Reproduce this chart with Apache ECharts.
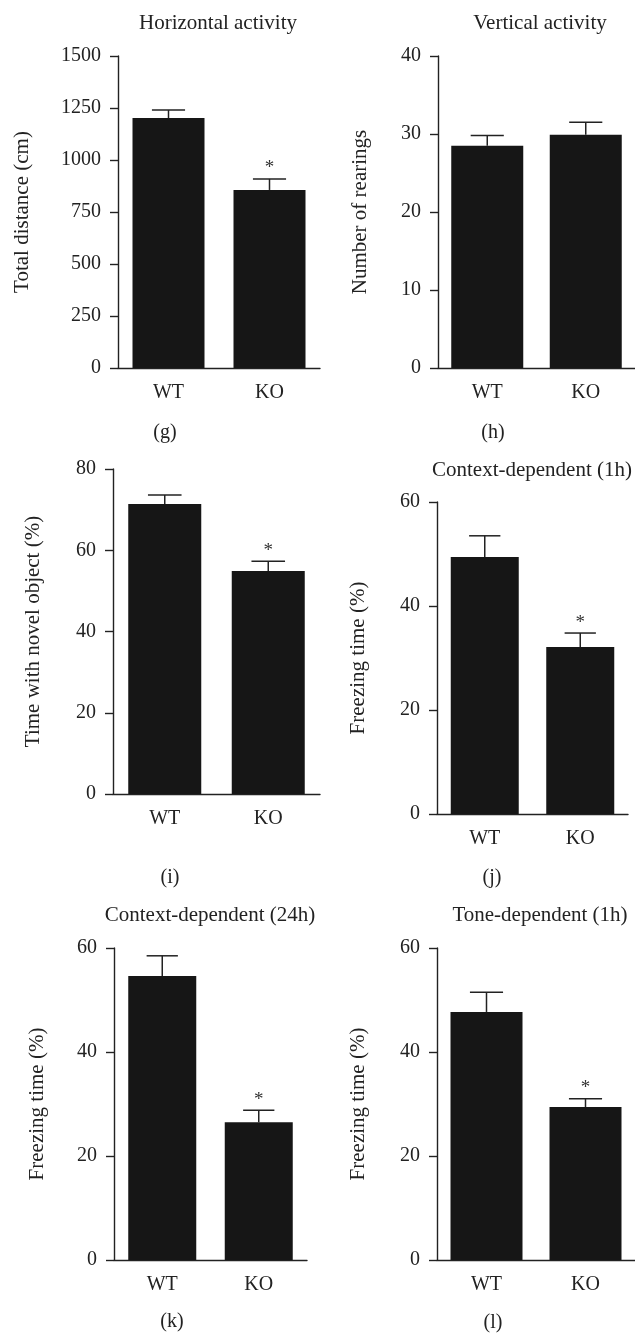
<!DOCTYPE html>
<html>
<head>
<meta charset="utf-8">
<script src="https://cdn.jsdelivr.net/npm/echarts@6/dist/echarts.min.js"></script>
<style>
html,body{margin:0;padding:0;background:#fff;}
#chart{width:635px;height:1337px;}
</style>
</head>
<body>
<div id="chart"></div>
<script>
// ---- data ----
const categories = ['WT', 'KO'];

const horizontalMean = [1202, 856];
const horizontalErr  = [38, 53];

const verticalMean = [28.5, 29.9];
const verticalErr  = [1.3, 1.6];

const novelMean = [71.4, 54.9];
const novelErr  = [2.2, 2.4];

const context1hMean = [49.4, 32.1];
const context1hErr  = [4.1, 2.7];

const context24hMean = [54.6, 26.5];
const context24hErr  = [3.9, 2.3];

const tone1hMean = [47.7, 29.4];
const tone1hErr  = [3.8, 1.6];

const sigNone = [false, false];
const sigKO   = [false, true];

const panelTitles = ['Horizontal activity', 'Vertical activity', '', 'Context-dependent (1h)', 'Context-dependent (24h)', 'Tone-dependent (1h)'];
const panelLetters = ['(g)', '(h)', '(i)', '(j)', '(k)', '(l)'];
const yNames = ['Total distance (cm)', 'Number of rearings', 'Time with novel object (%)', 'Freezing time (%)', 'Freezing time (%)', 'Freezing time (%)'];
const yMax = [1500, 40, 80, 60, 60, 60];
const yStep = [250, 10, 20, 20, 20, 20];

// ---- layout / style ----
const FONT = 'Liberation Serif';
const panels = [
  {mean: horizontalMean, err: horizontalErr, sig: sigKO,  grid:{left:118, top:56,  width:202, height:312}, barW:72, nameGap:85, title:[218, 23],  letter:[165, 433]},
  {mean: verticalMean,   err: verticalErr,   sig: sigNone,grid:{left:438, top:56,  width:198, height:312}, barW:72, nameGap:67, title:[540, 23],  letter:[493, 433]},
  {mean: novelMean,      err: novelErr,      sig: sigKO,  grid:{left:113, top:469, width:207, height:325}, barW:73, nameGap:69, title:null,      letter:[170, 878]},
  {mean: context1hMean,  err: context1hErr,  sig: sigKO,  grid:{left:437, top:502, width:191, height:312}, barW:68, nameGap:68, title:[532, 470], letter:[492, 878]},
  {mean: context24hMean, err: context24hErr, sig: sigKO,  grid:{left:114, top:948, width:193, height:312}, barW:68, nameGap:66, title:[210, 915], letter:[172, 1322]},
  {mean: tone1hMean,     err: tone1hErr,     sig: sigKO,  grid:{left:437, top:948, width:200, height:312}, barW:72, nameGap:68, title:[540, 915], letter:[493, 1323]}
];

const AX = '#222';
const grid = [], xAxis = [], yAxis = [], series = [], graphic = [];

panels.forEach((p, i) => {
  grid.push(p.grid);
  xAxis.push({
    type: 'category', gridIndex: i, data: categories, boundaryGap: true,
    axisLine: {lineStyle: {color: AX, width: 1.4}},
    axisTick: {alignWithLabel: true, length: 7, lineStyle: {color: AX, width: 1.4}},
    axisLabel: {fontFamily: FONT, fontSize: 20, color: '#222', margin: 15}
  });
  yAxis.push({
    type: 'value', gridIndex: i, min: 0, max: yMax[i], interval: yStep[i],
    name: yNames[i], nameLocation: 'middle', nameGap: p.nameGap,
    nameTextStyle: {fontFamily: FONT, fontSize: 21, color: '#222'},
    axisLine: {show: true, lineStyle: {color: AX, width: 1.4}},
    axisTick: {show: true, length: 8, lineStyle: {color: AX, width: 1.4}},
    axisLabel: {fontFamily: FONT, fontSize: 20, color: '#222', margin: 17, formatter: v => String(v)},
    splitLine: {show: false}
  });
  series.push({
    type: 'bar', xAxisIndex: i, yAxisIndex: i, data: p.mean,
    barWidth: p.barW, itemStyle: {color: '#161616'}, z: 2, silent: true
  });
  const errData = p.mean.map((m, k) => [k, m, m + p.err[k], p.sig[k] ? 1 : 0]);
  const capHalf = p.barW * 0.23;
  series.push({
    type: 'custom', xAxisIndex: i, yAxisIndex: i, data: errData, z: 3, silent: true,
    renderItem: function (params, api) {
      const base = api.coord([api.value(0), api.value(1)]);
      const top = api.coord([api.value(0), api.value(2)]);
      const children = [
        {type: 'line', shape: {x1: base[0], y1: base[1], x2: top[0], y2: top[1]}, style: {stroke: AX, lineWidth: 1.5}},
        {type: 'line', shape: {x1: top[0] - capHalf, y1: top[1], x2: top[0] + capHalf, y2: top[1]}, style: {stroke: AX, lineWidth: 1.5}}
      ];
      if (api.value(3) === 1) {
        children.push({type: 'text', style: {text: '*', x: top[0], y: top[1] - 1, align: 'center', verticalAlign: 'bottom', fontFamily: FONT, fontSize: 19, fill: '#333'}});
      }
      return {type: 'group', children: children};
    }
  });
  if (p.title && panelTitles[i]) {
    graphic.push({type: 'text', x: p.title[0], y: p.title[1], style: {text: panelTitles[i], align: 'center', verticalAlign: 'middle', fontFamily: FONT, fontSize: 21, fill: '#222'}});
  }
  graphic.push({type: 'text', x: p.letter[0], y: p.letter[1], style: {text: panelLetters[i], align: 'center', verticalAlign: 'middle', fontFamily: FONT, fontSize: 20, fill: '#222'}});
});

const chart = echarts.init(document.getElementById('chart'), null, {renderer: 'canvas'});
chart.setOption({
  backgroundColor: '#fff',
  animation: false,
  grid: grid, xAxis: xAxis, yAxis: yAxis, series: series, graphic: graphic
});
</script>
</body>
</html>
